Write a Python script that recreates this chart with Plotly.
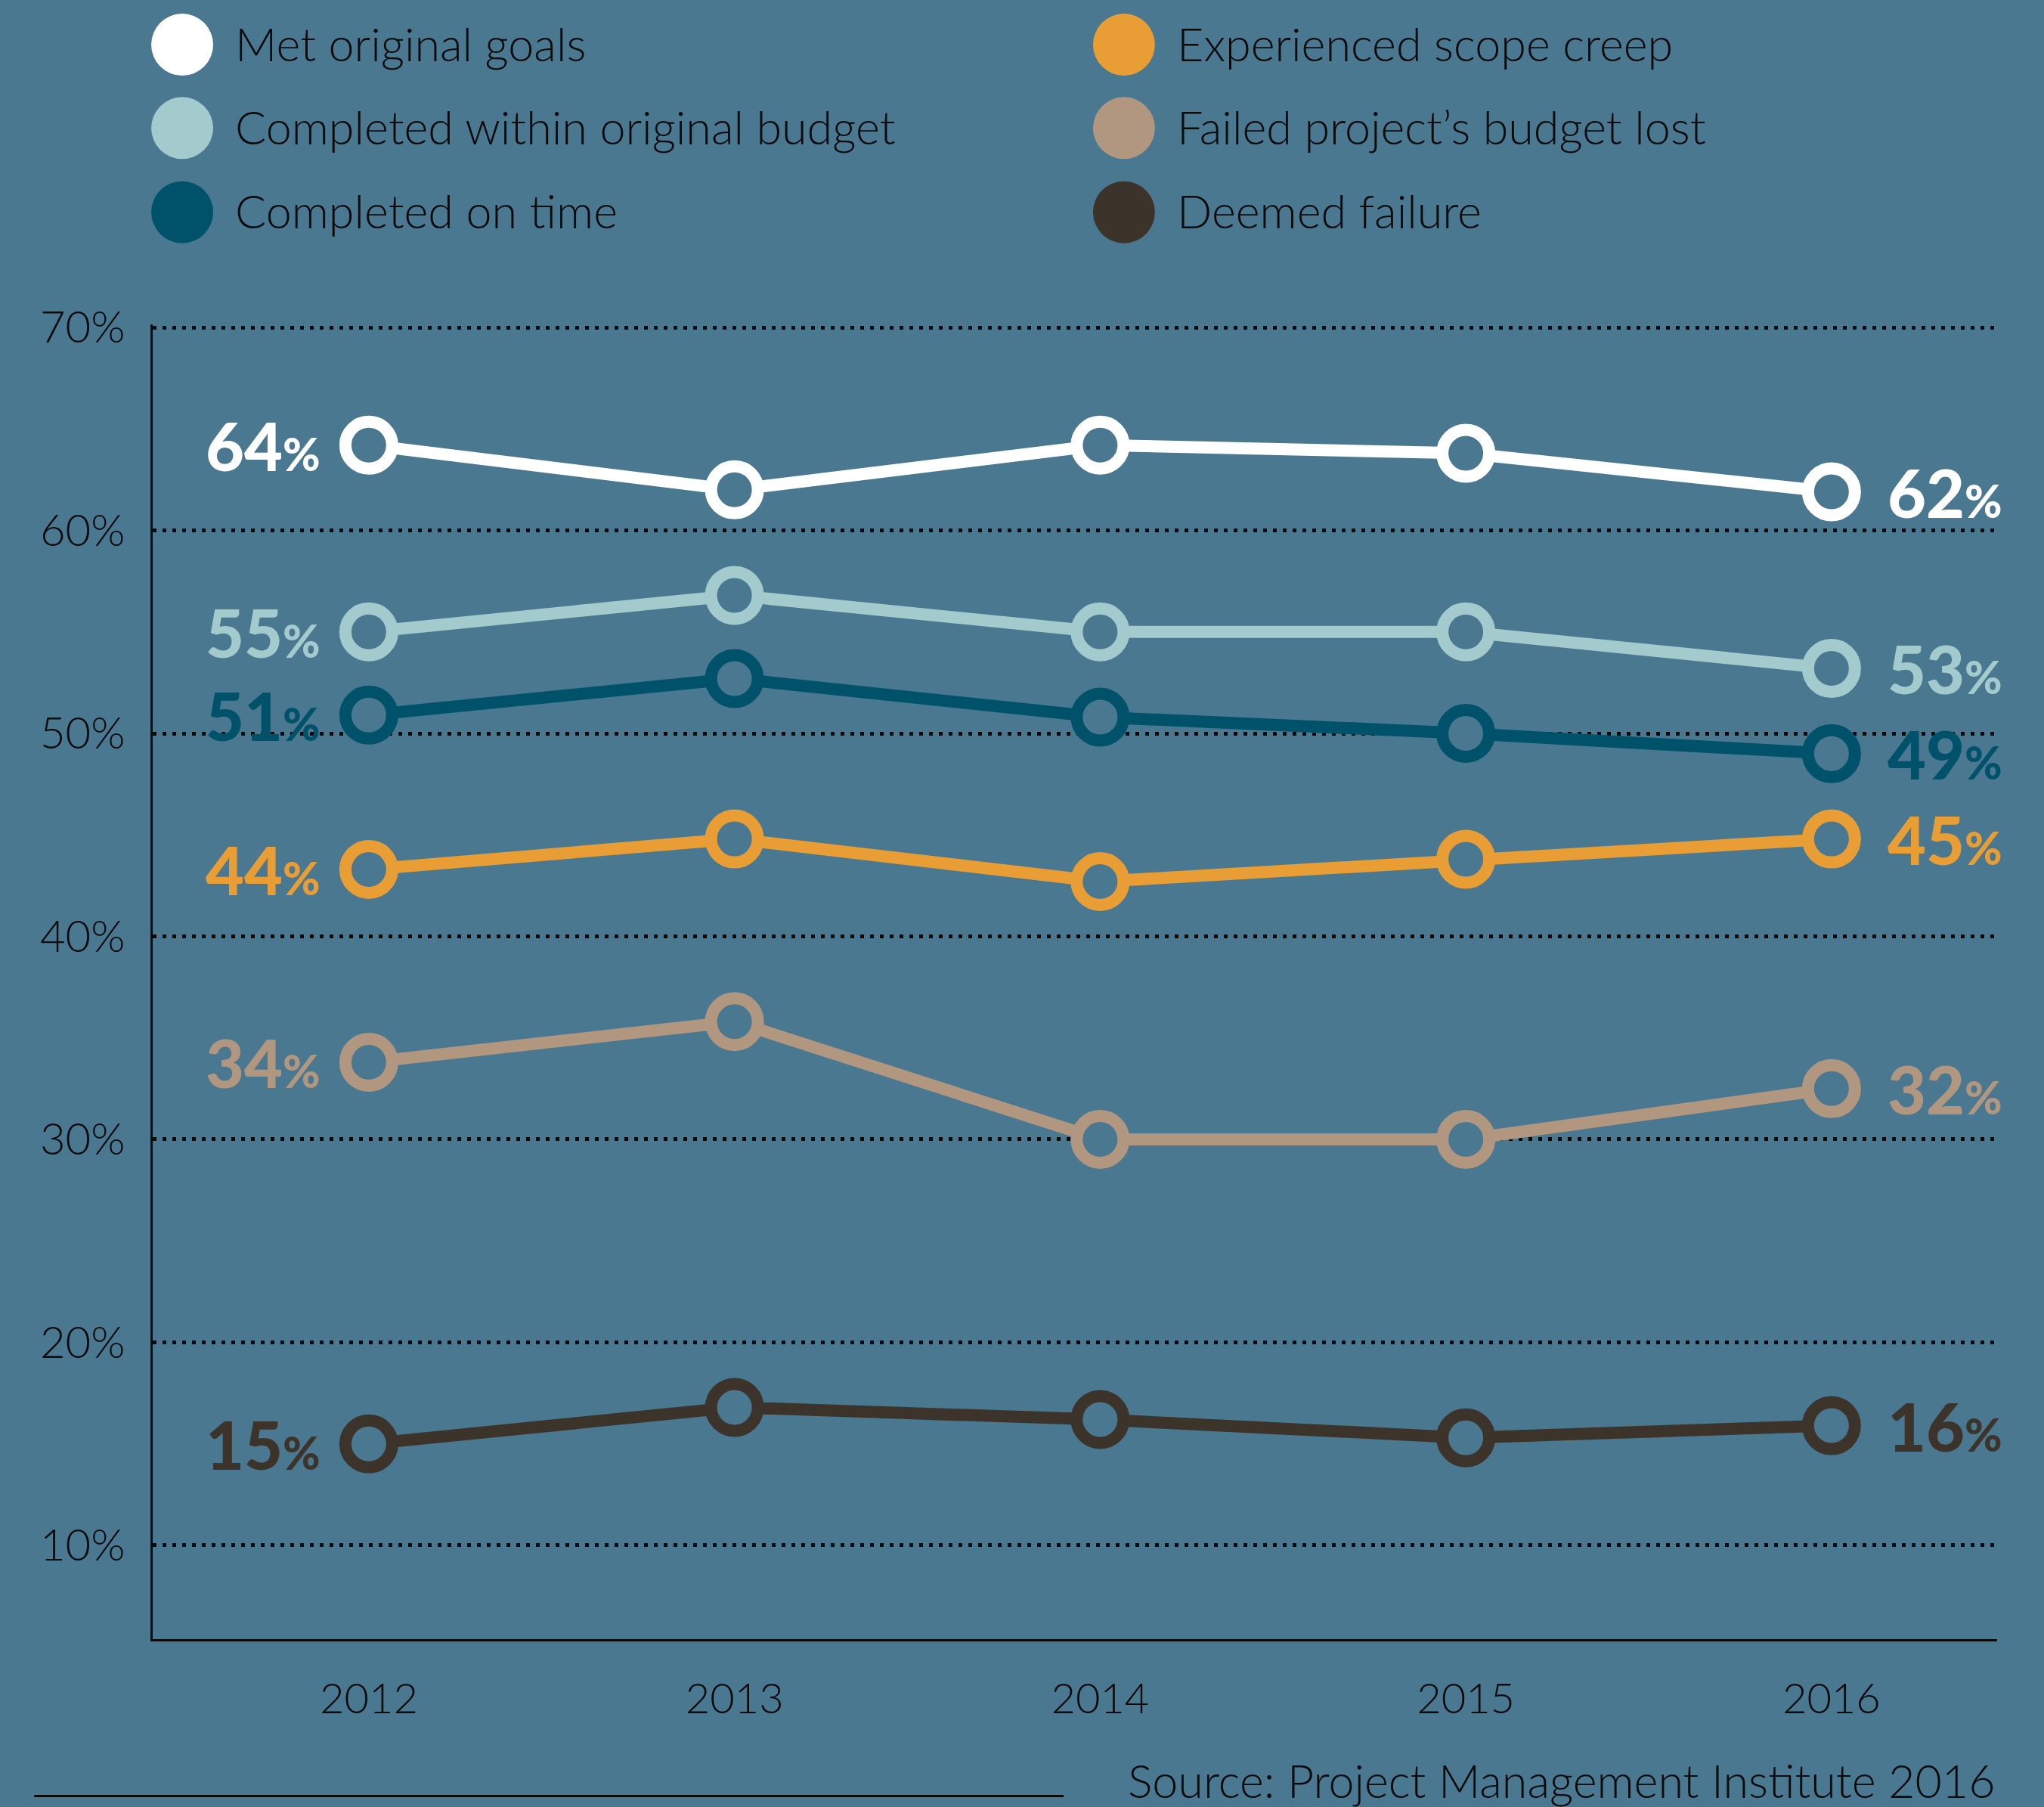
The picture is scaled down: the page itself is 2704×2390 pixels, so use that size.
import plotly.graph_objects as go

years = [2012, 2013, 2014, 2015, 2016]

series_names = ["Met original goals", "Completed within original budget", "Completed on time",
                "Experienced scope creep", "Failed project\u2019s budget lost", "Deemed failure"]
met_goals = [64.2, 62.0, 64.2, 63.8, 61.9]
within_budget = [55.0, 56.8, 55.0, 55.0, 53.2]
on_time = [50.9, 52.7, 50.8, 50.0, 49.0]
scope_creep = [43.3, 44.8, 42.7, 43.8, 44.8]
budget_lost = [33.8, 35.8, 30.0, 30.0, 32.5]
deemed_failure = [15.0, 16.8, 16.2, 15.3, 15.9]
start_labels = ["64", "55", "51", "44", "34", "15"]
end_labels = ["62", "53", "49", "45", "32", "16"]
y_ticks = [10, 20, 30, 40, 50, 60, 70]
y_tick_text = ["10%", "20%", "30%", "40%", "50%", "60%", "70%"]

colors = ["#FFFFFF", "#A3CACD", "#00526B", "#E89E35", "#B19780", "#3C342B"]
BG = "#4A7891"
all_series = [met_goals, within_budget, on_time, scope_creep, budget_lost, deemed_failure]

fig = go.Figure()
for name, vals, c in zip(series_names, all_series, colors):
    fig.add_trace(go.Scatter(
        x=years, y=vals, mode="lines+markers", name=name,
        line=dict(color=c, width=16),
        marker=dict(symbol="circle", size=62, color=BG, line=dict(color=c, width=16)),
        showlegend=False, cliponaxis=False, hoverinfo="skip",
    ))

LBL = dict(family="Lato, 'Open Sans', sans-serif", size=88, weight=900)
for vals, c, sl, el in zip(all_series, colors, start_labels, end_labels):
    fig.add_annotation(x=years[0], y=vals[0], xref="x", yref="y", showarrow=False,
                       text=sl + "<span style='font-size:60px'>%</span>",
                       xanchor="right", yanchor="middle", xshift=-62, yshift=0,
                       font=dict(color=c, **LBL))
    fig.add_annotation(x=years[-1], y=vals[-1], xref="x", yref="y", showarrow=False,
                       text=el + "<span style='font-size:60px'>%</span>",
                       xanchor="left", yanchor="middle", xshift=72, yshift=0,
                       font=dict(color=c, **LBL))

# Legend (two columns, three rows)
leg_x = [0.016, 0.016, 0.016, 0.5266, 0.5266, 0.5266]
leg_y = [1.2127, 1.1493, 1.0853, 1.2127, 1.1493, 1.0853]
LEGF = dict(family="Lato, 'Open Sans', sans-serif", size=61, color="#0a0a0a", weight=300)
for name, c, lx, ly in zip(series_names, colors, leg_x, leg_y):
    fig.add_shape(type="circle", xref="paper", yref="paper", xsizemode="pixel", ysizemode="pixel",
                  xanchor=lx, yanchor=ly, x0=-41, x1=41, y0=-41, y1=41,
                  fillcolor=c, line=dict(width=0))
    fig.add_annotation(x=lx, y=ly, xref="paper", yref="paper", showarrow=False,
                       text=name, xanchor="left", yanchor="middle", xshift=68, yshift=2,
                       font=LEGF)

fig.add_annotation(x=1.0, y=-0.107, xref="paper", yref="paper", showarrow=False,
                   text="Source: Project Management Institute 2016", xanchor="right", yanchor="middle",
                   font=LEGF)
fig.add_shape(type="line", xref="paper", yref="paper", x0=-0.0643, x1=0.4939, y0=-0.1193, y1=-0.1193,
              line=dict(color="#0a0a0a", width=3))

fig.update_layout(
    width=2704, height=2390,
    paper_bgcolor=BG, plot_bgcolor=BG,
    margin=dict(l=202, r=62, t=429, b=222),
    showlegend=False,
)
fig.update_xaxes(
    range=[2011.409, 2016.453], tickvals=years, ticktext=[str(y) for y in years],
    showgrid=False, zeroline=False, showline=True, linecolor="#0a0a0a", linewidth=3,
    ticks="", ticklabelstandoff=28,
    tickfont=dict(family="Lato, 'Open Sans', sans-serif", size=56, color="#0a0a0a", weight=300),
)
fig.update_yaxes(
    range=[5.38, 70.15], tickvals=y_ticks, ticktext=y_tick_text,
    showgrid=True, gridcolor="#0a0a0a", gridwidth=5, griddash="5px,8px",
    zeroline=False, showline=True, linecolor="#0a0a0a", linewidth=3,
    ticks="", ticklabelstandoff=22,
    tickfont=dict(family="Lato, 'Open Sans', sans-serif", size=58, color="#0a0a0a", weight=300),
)

fig.write_html("out.html", config={"displayModeBar": False},
               post_script="document.body.style.margin='0';document.body.style.overflow='hidden';")
